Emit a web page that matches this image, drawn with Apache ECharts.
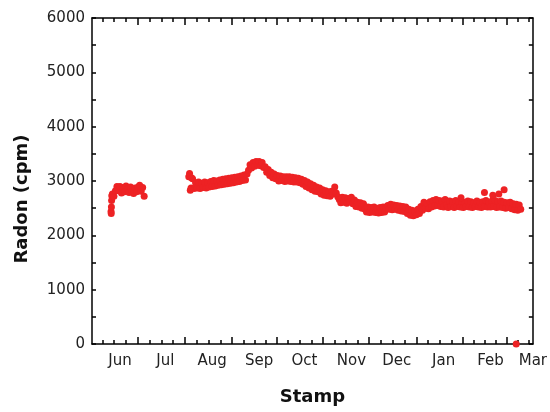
<!DOCTYPE html>
<html>
<head>
<meta charset="utf-8">
<script src="https://cdn.jsdelivr.net/npm/echarts@6.0.0/dist/echarts.min.js"></script>
<style>
  html, body { margin: 0; padding: 0; background: #fff; }
  #chart { width: 550px; height: 412px; }
</style>
</head>
<body>
<div id="chart"></div>
<script>
// axis labels and ticks
const monthLabels = ['Jun', 'Jul', 'Aug', 'Sep', 'Oct', 'Nov', 'Dec', 'Jan', 'Feb', 'Mar'];
const monthStarts = ['2018-06-01', '2018-07-01', '2018-08-01', '2018-09-01', '2018-10-01',
                     '2018-11-01', '2018-12-01', '2019-01-01', '2019-02-01', '2019-03-01'];
const majorTickDates = ['2018-06-12 18:00', '2018-07-13 22:00', '2018-08-14 05:00', '2018-09-12 12:00',
                        '2018-10-13 07:00', '2018-11-12 17:00', '2018-12-14 00:00', '2019-01-13 19:00',
                        '2019-02-12 00:00'];
const yLabels = [0, 1000, 2000, 3000, 4000, 5000, 6000];

// radon readings (cpm)
const junStartup = [['2018-05-26 02:00', 2440], ['2018-05-26 05:00', 2400], ['2018-05-26 08:00', 2520],
                    ['2018-05-26 11:00', 2640], ['2018-05-26 14:00', 2730]];
const radonMay = [2760, 2720, 2820, 2900, 2820];                       // May 27-31
const radonJun = [2900, 2780, 2880, 2800, 2910, 2850, 2790, 2890, 2800, 2770,
                  2870, 2800, 2890, 2920, 2810, 2880, 2720];           // Jun 1-17
const radonJul = [3140, 2870, 3040, 2860, 2970, 2870, 2980, 2860, 2960, 2880,
                  2980, 2870, 2970, 2890, 2990];                       // Jul 17-31
const radonAug = [2900, 3010, 2910, 3000, 2920, 3020, 2930, 3030, 2940, 3040,
                  2950, 3050, 2960, 3060, 2970, 3070, 2980, 3080, 2990, 3090,
                  3010, 3110, 3020, 3130, 3200, 3300, 3240, 3340, 3270, 3360, 3290];
const radonSep = [3360, 3280, 3340, 3250, 3260, 3160, 3210, 3100, 3160, 3060,
                  3130, 3040, 3100, 3000, 3090, 3010, 3080, 2990, 3080, 3000,
                  3080, 2990, 3070, 2980, 3060, 2980, 3050, 2970, 3030, 2940];
const radonOct = [3010, 2900, 2980, 2870, 2950, 2840, 2920, 2810, 2890, 2800,
                  2870, 2760, 2840, 2740, 2820, 2730, 2800, 2720, 2810, 2760,
                  2890, 2780, 2710, 2660, 2600, 2700, 2610, 2690, 2590, 2680, 2620];
const radonNov = [2700, 2580, 2650, 2530, 2610, 2520, 2600, 2500, 2580, 2480,
                  2430, 2520, 2420, 2510, 2430, 2520, 2420, 2500, 2410, 2510,
                  2420, 2520, 2430, 2500, 2550, 2480, 2570, 2470, 2560, 2480];
const radonDec = [2550, 2460, 2540, 2450, 2530, 2440, 2520, 2400, 2480, 2370,
                  2460, 2360, 2450, 2380, 2480, 2400, 2530, 2460, 2610, 2500,
                  2580, 2490, 2620, 2520, 2640, 2540, 2660, 2550, 2640, 2530, 2630];
const radonJan = [2520, 2660, 2560, 2510, 2630, 2530, 2620, 2510, 2640, 2530,
                  2610, 2520, 2620, 2510, 2610, 2530, 2630, 2520, 2620, 2510,
                  2600, 2530, 2630, 2520, 2610, 2510, 2620, 2530, 2640, 2520, 2610];
const radonFeb = [2520, 2630, 2530, 2640, 2510, 2620, 2520, 2630, 2510, 2610,
                  2500, 2600, 2510, 2610, 2490, 2580, 2470, 2570, 2460, 2560, 2480]; // Feb 1-21
const spikeReadings = [['2018-07-16 12:00', 3080], ['2018-07-17 12:00', 2830], ['2018-07-18 06:00', 3060],
                       ['2019-01-12 12:00', 2690], ['2019-01-28 00:00', 2790], ['2019-02-02 12:00', 2740],
                       ['2019-02-06 12:00', 2760], ['2019-02-10 00:00', 2840]];
const strayReading = [['2019-02-18', 0]];

const DAY = 86400000;
const ts = s => new Date(s.length > 10 ? s.replace(' ', 'T') : s + 'T00:00').getTime();

function dailyPoints(start, values) {
    const t0 = ts(start);
    return values.map((v, i) => [t0 + i * DAY, v]);
}

const radonData = [].concat(
    junStartup.map(r => [ts(r[0]), r[1]]),
    dailyPoints('2018-05-27', radonMay),
    dailyPoints('2018-06-01', radonJun),
    dailyPoints('2018-07-17', radonJul),
    dailyPoints('2018-08-01', radonAug),
    dailyPoints('2018-09-01', radonSep),
    dailyPoints('2018-10-01', radonOct),
    dailyPoints('2018-11-01', radonNov),
    dailyPoints('2018-12-01', radonDec),
    dailyPoints('2019-01-01', radonJan),
    dailyPoints('2019-02-01', radonFeb),
    spikeReadings.map(r => [ts(r[0]), r[1]]),
    strayReading.map(r => [ts(r[0]), r[1]])
);

const xMin = ts('2018-05-13 12:00');
const xMax = ts('2019-03-01');
const monthTs = monthStarts.map(ts);
const majorTicks = majorTickDates.map(ts);

// three minor ticks between major ticks
const minorTicks = [];
const firstStep = (majorTicks[1] - majorTicks[0]) / 4;
for (let k = 3; k >= 1; k--) minorTicks.push(majorTicks[0] - k * firstStep);
for (let i = 0; i < majorTicks.length - 1; i++) {
    const s = (majorTicks[i + 1] - majorTicks[i]) / 4;
    for (let k = 1; k <= 3; k++) minorTicks.push(majorTicks[i] + k * s);
}
const lastStep = (majorTicks[majorTicks.length - 1] - majorTicks[majorTicks.length - 2]) / 4;
minorTicks.push(majorTicks[majorTicks.length - 1] + lastStep);
minorTicks.push(majorTicks[majorTicks.length - 1] + 2 * lastStep);

const font = 'DejaVu Sans';
const blackLine = { show: true, onZero: false, lineStyle: { color: '#000', width: 1.5 } };
const noLine = { show: false, onZero: false };
const tickLine = { color: '#000', width: 1.5 };

// time runs on a plain value axis (ms) so ticks can be placed by hand
function tickAxis(position, ticks, len, showLine) {
    return {
        type: 'value', position: position, min: xMin, max: xMax,
        axisLine: showLine ? blackLine : noLine,
        axisTick: { show: true, inside: true, length: len, customValues: ticks, lineStyle: tickLine },
        axisLabel: { show: false },
        splitLine: { show: false }
    };
}

const bottomAxis = tickAxis('bottom', majorTicks, 7, true);
bottomAxis.axisLabel = {
    show: true,
    customValues: monthTs,
    formatter: v => monthLabels[monthTs.findIndex(t => Math.abs(t - v) < DAY)],
    fontSize: 15, color: '#222', fontFamily: font, margin: 10
};
bottomAxis.name = 'Stamp';
bottomAxis.nameLocation = 'middle';
bottomAxis.nameGap = 44;
bottomAxis.nameTextStyle = { fontSize: 18, fontWeight: 'bold', color: '#111', fontFamily: font };

const chart = echarts.init(document.getElementById('chart'));
chart.setOption({
    animation: false,
    backgroundColor: '#fff',
    textStyle: { fontFamily: font },
    grid: { left: 92, right: 16, top: 18, bottom: 68 },
    xAxis: [
        bottomAxis,
        tickAxis('bottom', minorTicks, 4, false),
        tickAxis('top', majorTicks, 7, true),
        tickAxis('top', minorTicks, 4, false)
    ],
    yAxis: [
        {
            type: 'value', position: 'left', min: 0, max: 6000, interval: 500,
            axisLine: blackLine,
            axisTick: { show: true, inside: true, length: 4, lineStyle: tickLine },
            axisLabel: { customValues: yLabels, formatter: v => String(v), fontSize: 15, color: '#222',
                         fontFamily: font, margin: 7, padding: [0, 0, 4, 0] },
            splitLine: { show: false },
            name: 'Radon (cpm)', nameLocation: 'middle', nameGap: 61,
            nameTextStyle: { fontSize: 18, fontWeight: 'bold', color: '#111', fontFamily: font, padding: [0, 36, 0, 0] }
        },
        {
            type: 'value', position: 'right', min: 0, max: 6000, interval: 500,
            axisLine: blackLine,
            axisTick: { show: true, inside: true, length: 4, lineStyle: tickLine },
            axisLabel: { show: false },
            splitLine: { show: false }
        }
    ],
    series: [{
        type: 'scatter',
        xAxisIndex: 0, yAxisIndex: 0,
        data: radonData,
        symbolSize: 7,
        itemStyle: { color: '#ed2224', opacity: 1 }
    }]
});
</script>
</body>
</html>
